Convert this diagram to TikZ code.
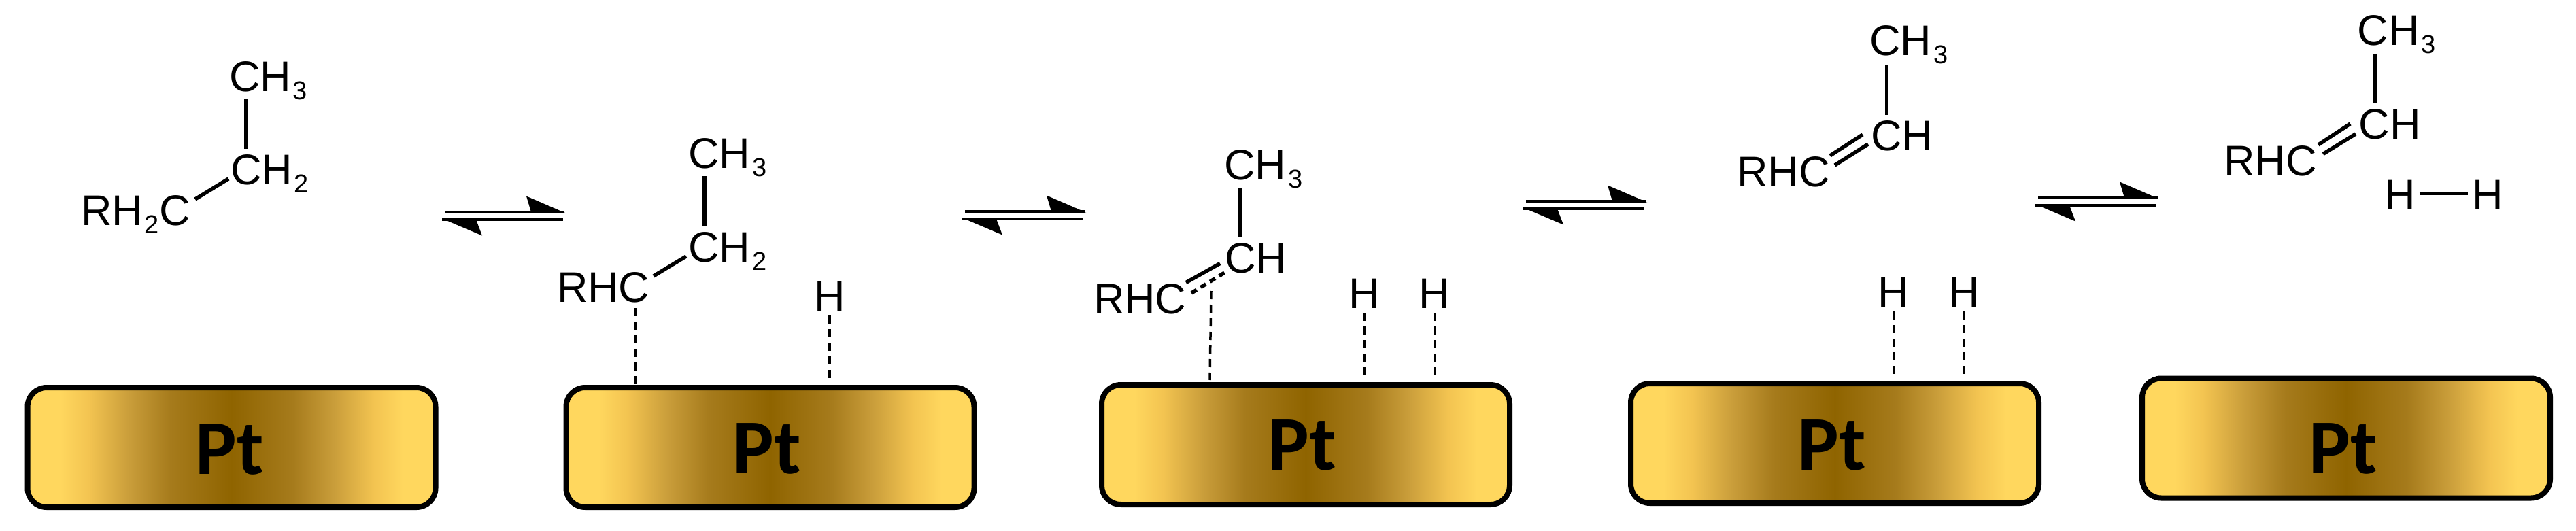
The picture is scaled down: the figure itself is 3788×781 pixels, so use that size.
\documentclass[tikz,border=0pt]{standalone}
\usepackage{fontspec}
\setmainfont{Liberation Sans}
\newfontfamily\ptfont{Carlito}
\newcommand{\chemsub}[1]{\kern3pt\raisebox{-12pt}{\fontsize{38}{38}\selectfont #1}}
\definecolor{ptlight}{HTML}{FFD75E}
\definecolor{ptmid}{HTML}{F3C451}
\definecolor{ptmidb}{HTML}{C99D3A}
\definecolor{ptmidc}{HTML}{A67B1C}
\definecolor{ptdark}{HTML}{8F6400}
\pgfdeclarehorizontalshading{ptgrad}{100bp}{
  color(0bp)=(ptlight); color(29bp)=(ptlight); color(32.5bp)=(ptmid);
  color(37.5bp)=(ptmidb); color(42.5bp)=(ptmidc); color(50bp)=(ptdark);
  color(57.5bp)=(ptmidc); color(62.5bp)=(ptmidb);
  color(67.5bp)=(ptmid); color(71bp)=(ptlight); color(100bp)=(ptlight)}
\tikzset{
  atom/.style={inner sep=0pt,outer sep=0pt,font=\fontsize{63}{63}\selectfont,text=black,anchor=base west},
  hatom/.style={atom,anchor=base},
  bond/.style={draw=black,line width=5.5pt},
  thinbond/.style={draw=black,line width=3.5pt},
  dashbond/.style={draw=black,line width=3.5pt,dash pattern=on 12pt off 8pt},
  ptbox/.style={draw=black,line width=8pt,rounded corners=28pt,shading=ptgrad,
    minimum width=600pt,minimum height=176pt,inner sep=0pt},
  ptlabel/.style={inner sep=0pt,font=\ptfont\bfseries\fontsize{114}{114}\selectfont,text=black,anchor=base},
  eqline/.style={draw=black,line width=4.5pt},
  eqarrow/.pic={
    \draw[eqline] (4,-5.5) -- (180,-5.5);
    \draw[eqline] (0,5.5) -- (178,5.5);
    \fill[black] (182,-4) -- (124,-29) -- (131,-5.5) -- cycle;
    \fill[black] (0,4) -- (59,29) -- (50,5.5) -- cycle;
  }
}
\begin{document}
\begin{tikzpicture}[x=1pt,y=-1pt]
\useasboundingbox (0,0) rectangle (3788,781);
% platinum slabs
\node[ptbox] (box1) at (340.5,658) {};
\node[ptbox] (box2) at (1132.5,658) {};
\node[ptbox] (box3) at (1920,654) {};
\node[ptbox] (box4) at (2698,652) {};
\node[ptbox] (box5) at (3450,644.5) {};
\node[ptlabel] (pt1) at (338,697) {Pt};
\node[ptlabel] (pt2) at (1128,696) {Pt};
\node[ptlabel] (pt3) at (1915,691) {Pt};
\node[ptlabel] (pt4) at (2694,691) {Pt};
\node[ptlabel] (pt5) at (3446,696) {Pt};
% equilibrium arrows
\pic (eq1) at (650,317.5) {eqarrow};
\pic (eq2) at (1415,316.5) {eqarrow};
\pic (eq3) at (2240,301.5) {eqarrow};
\pic (eq4) at (2993,296.5) {eqarrow};
% molecule 1
\node[atom] (m1ch3) at (337,135) {CH\chemsub{3}};
\node[atom] (m1ch2) at (339,271) {CH\chemsub{2}};
\node[atom] (m1r) at (119,331) {RH\chemsub{2}C};
\coordinate (m1a) at (362,146); \coordinate (m1b) at (362,219);
\coordinate (m1c) at (287,293); \coordinate (m1d) at (336,263);
\draw[bond] (m1a) -- (m1b);
\draw[bond] (m1c) -- (m1d);
% molecule 2
\node[atom] (m2ch3) at (1012,247) {CH\chemsub{3}};
\node[atom] (m2ch2) at (1012,385) {CH\chemsub{2}};
\node[atom] (m2r) at (819,444) {RHC};
\node[hatom] (m2h) at (1220,457) {H};
\coordinate (m2a) at (1036,259); \coordinate (m2b) at (1036,332);
\coordinate (m2c) at (961,406); \coordinate (m2d) at (1009,377);
\coordinate (m2e) at (934,453);
\draw[bond] (m2a) -- (m2b);
\draw[bond] (m2c) -- (m2d);
\draw[dashbond] (m2e) -- (m2e |- box2.north);
\draw[dashbond,shorten <=7pt,shorten >=6pt] (m2h.south) -- (m2h.south |- box2.north);
% molecule 3
\node[atom] (m3ch3) at (1800,264) {CH\chemsub{3}};
\node[atom] (m3ch) at (1801,401.5) {CH};
\node[atom] (m3r) at (1608,461) {RHC};
\node[hatom] (m3h1) at (2006,453) {H};
\node[hatom] (m3h2) at (2109.5,453) {H};
\coordinate (m3a) at (1824,276); \coordinate (m3b) at (1824,349);
\coordinate (m3c) at (1744,415.5); \coordinate (m3d) at (1794,387.5);
\coordinate (m3e) at (1752,431); \coordinate (m3f) at (1803,399.5);
\coordinate (m3g) at (1781,428); \coordinate (m3i) at (1779,559);
\draw[bond] (m3a) -- (m3b);
\draw[bond] (m3c) -- (m3d);
\draw[bond,dash pattern=on 9pt off 7pt] (m3e) -- (m3f);
\draw[dashbond] (m3g) -- (m3i);
\draw[dashbond,shorten <=7pt,shorten >=6pt] (m3h1.south) -- (m3h1.south |- box3.north);
\draw[dashbond,shorten <=7pt,shorten >=6pt] (m3h2.south) -- (m3h2.south |- box3.north);
% molecule 4
\node[atom] (m4ch3) at (2749,82) {CH\chemsub{3}};
\node[atom] (m4ch) at (2751,221.5) {CH};
\node[atom] (m4r) at (2554,274) {RHC};
\node[hatom] (m4h1) at (2784.5,451) {H};
\node[hatom] (m4h2) at (2888,451) {H};
\coordinate (m4a) at (2774.5,95); \coordinate (m4b) at (2774.5,169);
\coordinate (m4c) at (2691,229); \coordinate (m4d) at (2739,198);
\coordinate (m4e) at (2698,243); \coordinate (m4f) at (2747,212);
\draw[bond] (m4a) -- (m4b);
\draw[bond] (m4c) -- (m4d);
\draw[bond] (m4e) -- (m4f);
\draw[dashbond,shorten <=7pt,shorten >=6pt] (m4h1.south) -- (m4h1.south |- box4.north);
\draw[dashbond,shorten <=7pt,shorten >=6pt] (m4h2.south) -- (m4h2.south |- box4.north);
% molecule 5
\node[atom] (m5ch3) at (3466.5,67) {CH\chemsub{3}};
\node[atom] (m5ch) at (3468.5,204) {CH};
\node[atom] (m5r) at (3270,258) {RHC};
\node[hatom] (m5h1) at (3529,308) {H};
\node[hatom] (m5h2) at (3658,308) {H};
\coordinate (m5a) at (3492,79); \coordinate (m5b) at (3492,152);
\coordinate (m5c) at (3409,213); \coordinate (m5d) at (3456,182);
\coordinate (m5e) at (3416,226.5); \coordinate (m5f) at (3464,197);
\draw[bond] (m5a) -- (m5b);
\draw[bond] (m5c) -- (m5d);
\draw[bond] (m5e) -- (m5f);
\draw[thinbond,shorten <=6pt,shorten >=6pt] (m5h1.east |- 0,285) -- (m5h2.west |- 0,285);
\end{tikzpicture}
\end{document}
